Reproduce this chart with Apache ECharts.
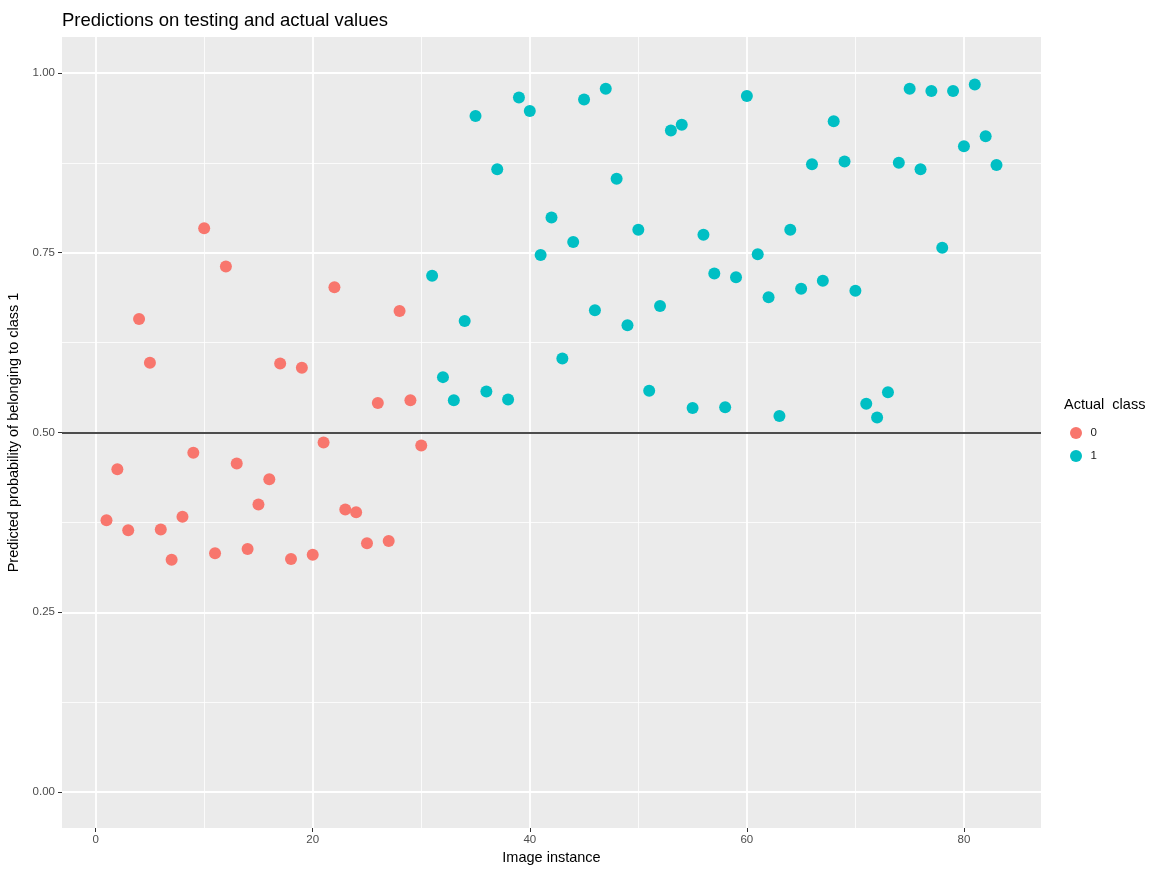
<!DOCTYPE html>
<html>
<head>
<meta charset="utf-8">
<script src="https://cdn.jsdelivr.net/npm/echarts@6/dist/echarts.min.js"></script>
<style>
html,body{margin:0;padding:0;background:#fff;}
#chart{width:1152px;height:869px;}
</style>
</head>
<body>
<div id="chart"></div>
<script>
// ---- data ----
const chartTitle = 'Predictions on testing and actual values';
const xTitle = 'Image instance';
const yTitle = 'Predicted probability of belonging to class 1';
const legendTitle = 'Actual  class';
const classNames = ['0', '1'];

const instance0 = [1,2,3,4,5,6,7,8,9,10,11,12,13,14,15,16,17,18,19,20,21,22,23,24,25,26,27,28,29,30];
const prob0 = [0.378,0.449,0.364,0.658,0.597,0.365,0.323,0.383,0.472,0.784,
               0.332,0.731,0.457,0.338,0.400,0.435,0.596,0.324,0.590,0.330,
               0.486,0.702,0.393,0.389,0.346,0.541,0.349,0.669,0.545,0.482];

const instance1 = [31,32,33,34,35,36,37,38,39,40,41,42,43,44,45,46,47,48,49,50,
                   51,52,53,54,55,56,57,58,59,60,61,62,63,64,65,66,67,68,69,70,
                   71,72,73,74,75,76,77,78,79,80,81,82,83];
const prob1 = [0.718,0.577,0.545,0.655,0.940,0.557,0.866,0.546,0.966,0.947,
               0.747,0.799,0.603,0.765,0.963,0.670,0.978,0.853,0.649,0.782,
               0.558,0.676,0.920,0.928,0.534,0.775,0.721,0.535,0.716,0.968,
               0.748,0.688,0.523,0.782,0.700,0.873,0.711,0.933,0.877,0.697,
               0.540,0.521,0.556,0.875,0.978,0.866,0.975,0.757,0.975,0.898,
               0.984,0.912,0.872];

const threshold = 0.5;

const xTicks = [0,20,40,60,80];
const xMinorTicks = [10,30,50,70];
const yTicks = [0,0.25,0.5,0.75,1];
const yMinorTicks = [0.125,0.375,0.625,0.875];
const xRange = [-3.1, 87.1];
const yRange = [-0.05, 1.05];

// ---- chart ----
const colors = ['#F8766D', '#00BFC4'];
const fontFamily = '"Liberation Sans", Arial, Helvetica, sans-serif';

function pairs(xs, ys){ return xs.map((x,i)=>[x, ys[i]]); }

const chart = echarts.init(document.getElementById('chart'), null, {renderer:'canvas'});

const majorAxisCommon = {
  axisLine: {show:false, onZero:false},
  axisTick: {show:true, length:4, lineStyle:{color:'#333333', width:1}},
  axisLabel: {color:'#4D4D4D', fontSize:11.5, fontFamily},
  splitLine: {show:true, lineStyle:{color:'#FFFFFF', width:1.8}},
  nameTextStyle: {color:'#000000', fontSize:14.5, fontFamily}
};

const option = {
  backgroundColor: '#FFFFFF',
  animation: false,
  title: [
    {text: chartTitle, left: 62, top: 10, padding: 0,
     textStyle:{fontSize:18.5, fontWeight:'normal', color:'#000000', fontFamily, lineHeight:22}},
    {text: legendTitle, left: 1064, top: 396, padding: 0,
     textStyle:{fontSize:14.5, fontWeight:'normal', color:'#000000', fontFamily, lineHeight:18}}
  ],
  legend: {
    orient: 'vertical', left: 1070, top: 427, padding: 0,
    itemWidth: 19, itemHeight: 12, itemGap: 11,
    icon: 'circle',
    textStyle: {fontSize:11.5, color:'#1A1A1A', fontFamily},
    data: classNames
  },
  grid: {left:62, right:111, top:37, bottom:41, show:true, backgroundColor:'#EBEBEB', borderWidth:0,
         containLabel:false, outerBoundsMode:'none'},
  xAxis: [
    Object.assign({}, majorAxisCommon, {
      type:'value', min:xRange[0], max:xRange[1], position:'bottom',
      name: xTitle, nameLocation:'middle', nameGap: 21,
      axisTick: Object.assign({}, majorAxisCommon.axisTick, {customValues: xTicks}),
      axisLabel: Object.assign({}, majorAxisCommon.axisLabel, {customValues: xTicks, margin: 6, formatter: v => String(v)})
    }),
    {
      type:'value', min:xRange[0], max:xRange[1], position:'bottom',
      axisLine:{show:false, onZero:false}, axisLabel:{show:false},
      axisTick:{show:false, customValues: xMinorTicks},
      splitLine:{show:true, lineStyle:{color:'#FFFFFF', width:0.8}}
    }
  ],
  yAxis: [
    Object.assign({}, majorAxisCommon, {
      type:'value', min:yRange[0], max:yRange[1], position:'left',
      name: yTitle, nameLocation:'middle', nameGap: 37, nameRotate: 90,
      axisTick: Object.assign({}, majorAxisCommon.axisTick, {customValues: yTicks}),
      axisLabel: Object.assign({}, majorAxisCommon.axisLabel, {customValues: yTicks, margin: 7, formatter: v => v.toFixed(2)})
    }),
    {
      type:'value', min:yRange[0], max:yRange[1], position:'left',
      axisLine:{show:false, onZero:false}, axisLabel:{show:false},
      axisTick:{show:false, customValues: yMinorTicks},
      splitLine:{show:true, lineStyle:{color:'#FFFFFF', width:0.8}}
    }
  ],
  series: [
    {
      name: classNames[0], type:'scatter', xAxisIndex:0, yAxisIndex:0,
      symbol:'circle', symbolSize:12,
      itemStyle:{color:colors[0], opacity:1},
      data: pairs(instance0, prob0),
      markLine: {
        silent:true, symbol:['none','none'], label:{show:false},
        lineStyle:{color:'#111111', width:1.5, type:'solid'},
        data:[{yAxis: threshold}]
      },
      z: 3
    },
    {
      name: classNames[1], type:'scatter', xAxisIndex:0, yAxisIndex:0,
      symbol:'circle', symbolSize:12,
      itemStyle:{color:colors[1], opacity:1},
      data: pairs(instance1, prob1),
      z: 3
    }
  ]
};

chart.setOption(option);
</script>
</body>
</html>
